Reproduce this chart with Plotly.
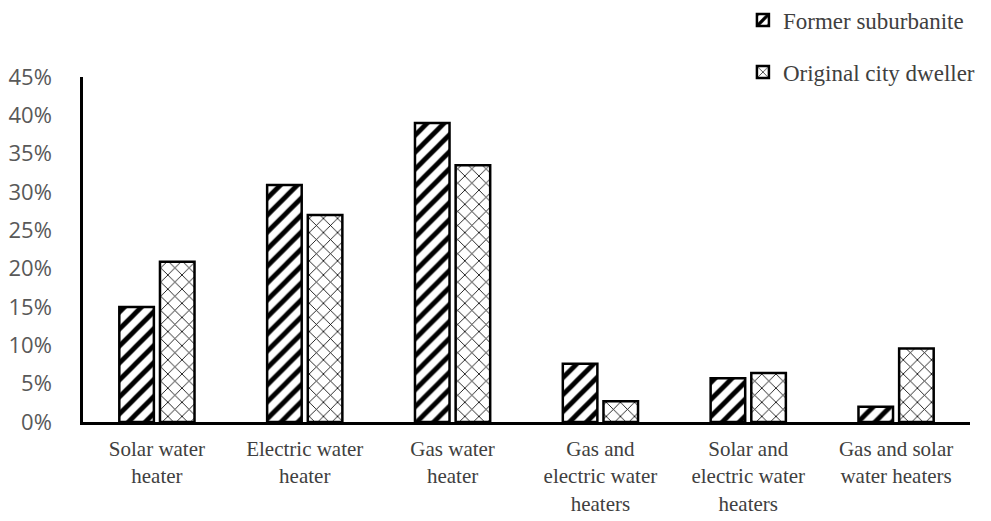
import plotly.graph_objects as go

categories = [
    "Solar water<br>heater",
    "Electric water<br>heater",
    "Gas water<br>heater",
    "Gas and<br>electric water<br>heaters",
    "Solar and<br>electric water<br>heaters",
    "Gas and solar<br>water heaters",
]
former_suburbanite = [0.150, 0.309, 0.390, 0.076, 0.057, 0.020]
original_city_dweller = [0.209, 0.270, 0.335, 0.027, 0.064, 0.096]
y_ticks = [0, 0.05, 0.10, 0.15, 0.20, 0.25, 0.30, 0.35, 0.40, 0.45]

fig = go.Figure()
fig.add_trace(go.Bar(
    name="Former suburbanite",
    x=categories,
    y=former_suburbanite,
    marker=dict(
        color="white",
        line=dict(color="black", width=2.5),
        pattern=dict(shape="/", fgcolor="black", bgcolor="white",
                     size=12, solidity=0.4, fillmode="replace"),
    ),
    legend="legend",
    showlegend=True,
))
fig.add_trace(go.Bar(
    name="Original city dweller",
    x=categories,
    y=original_city_dweller,
    marker=dict(
        color="white",
        line=dict(color="black", width=2.5),
        pattern=dict(shape="x", fgcolor="black", bgcolor="white",
                     size=10, solidity=0.16, fillmode="replace"),
    ),
    legend="legend2",
    showlegend=True,
))

legend_font = dict(family="Liberation Serif, Times New Roman, serif", size=23, color="#404040")

fig.update_layout(
    width=991,
    height=521,
    margin=dict(l=83, r=21, t=77, b=99, autoexpand=False),
    paper_bgcolor="white",
    plot_bgcolor="white",
    showlegend=True,
    barmode="group",
    bargap=0.45,
    bargroupgap=0.15,
    legend=dict(x=0.744, y=1.165, xanchor="left", yanchor="middle",
                font=legend_font, bgcolor="rgba(0,0,0,0)"),
    legend2=dict(x=0.744, y=1.014, xanchor="left", yanchor="middle",
                 font=legend_font, bgcolor="rgba(0,0,0,0)"),
    xaxis=dict(
        showline=True, linecolor="black", linewidth=2.5,
        showgrid=False, ticks="", automargin=False, tickangle=0,
        tickfont=dict(family="Liberation Serif, Times New Roman, serif", size=21, color="#404040"),
        ticklabelstandoff=6,
    ),
    yaxis=dict(
        range=[0, 0.45],
        tickvals=y_ticks,
        tickformat=".0%",
        showline=True, linecolor="black", linewidth=2.5,
        showgrid=False, zeroline=False, ticks="", automargin=False,
        tickfont=dict(family="Open Sans, sans-serif", size=22, color="#595959"),
        ticklabelstandoff=24,
    ),
)

fig.write_html("out.html")
